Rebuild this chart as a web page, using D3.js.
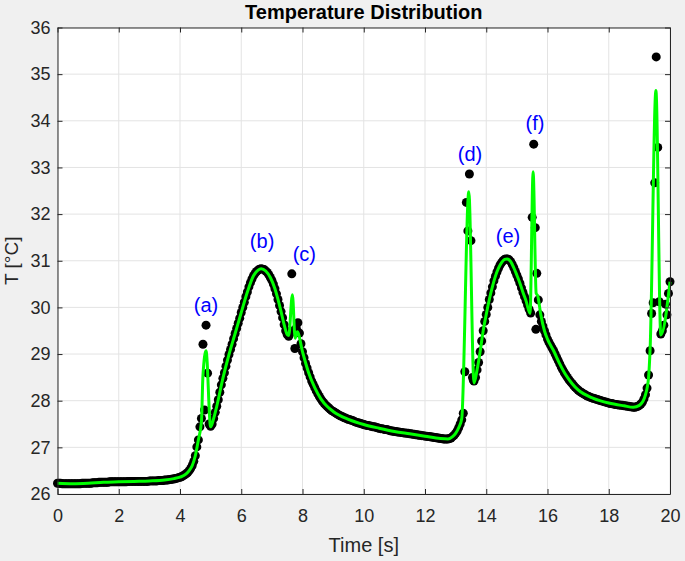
<!DOCTYPE html>
<html>
<head>
<meta charset="utf-8">
<script src="https://cdn.jsdelivr.net/npm/d3@7"></script>
<style>
  body { margin: 0; background: #f0f0f0; }
  text { font-family: "Liberation Sans", Arial, Helvetica, sans-serif; }
</style>
</head>
<body>
<svg id="chart" width="685" height="561"></svg>
<script>
// measured temperature, one sample every 0.05 s from 0 to 20 s
const sampleStep = 0.05;
const measured = [
  26.23,26.23,26.23,26.22,26.22,26.22,26.22,26.22,26.22,26.22,26.22,26.22,26.22,26.22,26.22,26.22,26.23,26.23,26.23,26.23,
  26.23,26.23,26.23,26.24,26.24,26.24,26.24,26.25,26.25,26.25,26.25,26.25,26.25,26.25,26.26,26.26,26.26,26.26,26.26,26.26,
  26.26,26.26,26.26,26.26,26.26,26.26,26.27,26.27,26.27,26.27,26.27,26.27,26.27,26.27,26.27,26.27,26.27,26.27,26.27,26.27,
  26.28,26.28,26.28,26.28,26.28,26.28,26.29,26.29,26.29,26.29,26.30,26.30,26.30,26.31,26.31,26.32,26.32,26.33,26.34,26.35,
  26.36,26.37,26.39,26.41,26.43,26.46,26.50,26.55,26.61,26.70,26.82,27.01,27.16,27.44,27.62,29.21,27.80,29.62,28.59,27.50,
  27.45,27.50,27.62,27.75,27.88,28.02,28.18,28.34,28.48,28.60,28.74,28.87,28.99,29.10,29.21,29.33,29.44,29.55,29.66,29.77,
  29.89,30.00,30.11,30.23,30.33,30.44,30.53,30.61,30.68,30.73,30.77,30.80,30.82,30.83,30.82,30.81,30.78,30.75,30.70,30.64,
  30.58,30.50,30.40,30.29,30.17,30.04,29.91,29.78,29.63,29.50,29.42,29.38,29.45,30.72,29.50,29.12,29.55,29.67,29.45,29.22,
  29.05,28.92,28.80,28.70,28.60,28.51,28.42,28.35,28.28,28.21,28.15,28.09,28.04,27.99,27.95,27.91,27.88,27.85,27.82,27.79,
  27.77,27.75,27.73,27.71,27.69,27.67,27.66,27.64,27.63,27.61,27.60,27.59,27.58,27.57,27.55,27.54,27.53,27.52,27.51,27.50,
  27.49,27.48,27.47,27.47,27.46,27.45,27.44,27.44,27.43,27.42,27.41,27.40,27.40,27.39,27.38,27.38,27.37,27.36,27.35,27.35,
  27.34,27.34,27.33,27.33,27.32,27.32,27.31,27.31,27.30,27.30,27.29,27.29,27.28,27.28,27.27,27.27,27.26,27.26,27.25,27.25,
  27.24,27.24,27.23,27.23,27.22,27.22,27.21,27.21,27.20,27.20,27.19,27.19,27.18,27.18,27.18,27.18,27.19,27.20,27.23,27.26,
  27.30,27.35,27.42,27.50,27.59,27.73,28.62,32.25,31.64,32.86,31.43,28.50,28.42,28.50,28.66,28.82,29.05,29.28,29.50,29.70,
  29.85,30.00,30.17,30.31,30.44,30.57,30.67,30.76,30.84,30.91,30.96,31.00,31.03,31.04,31.04,31.02,30.98,30.92,30.85,30.77,
  30.69,30.61,30.52,30.42,30.32,30.23,30.14,30.05,29.96,29.88,31.93,33.50,31.71,30.73,30.16,29.84,29.70,29.60,29.50,29.41,
  29.32,29.25,29.19,29.13,29.07,29.00,28.93,28.86,28.79,28.72,28.66,28.60,28.55,28.50,28.45,28.41,28.37,28.33,28.29,28.26,
  28.23,28.20,28.18,28.16,28.14,28.12,28.10,28.09,28.07,28.06,28.05,28.04,28.03,28.02,28.01,28.00,27.99,27.98,27.97,27.96,
  27.95,27.94,27.94,27.93,27.92,27.92,27.91,27.91,27.90,27.90,27.89,27.89,27.88,27.88,27.87,27.87,27.86,27.86,27.87,27.88,
  27.90,27.93,27.97,28.04,28.13,28.27,28.55,29.07,29.87,30.10,32.67,35.37,33.43,30.12,29.43,29.50,29.62,30.07,29.84,30.30,
  30.55
];

// a few extra measured points off the regular grid
const extraTime = [13.58, 15.62];
const extraTemp = [28.44, 29.53];

// fitted curve (green)
const fitTime = [
  0, 0.5, 1.0, 1.5, 2.0, 2.5, 3.0, 3.5, 3.8, 4.0, 4.2, 4.3, 4.4, 4.5, 4.6, 4.7, 4.75, 4.85, 5.0,
  5.1, 5.2, 5.4, 5.6, 5.8, 6.0, 6.2, 6.4, 6.55, 6.65, 6.8, 6.95, 7.1, 7.2, 7.3, 7.4, 7.5, 7.55,
  7.67, 7.76, 7.83, 8.0, 8.2, 8.4, 8.6, 8.8, 9.0, 9.5, 10, 10.5, 11, 11.5, 12, 12.5, 12.75, 12.9,
  13.0, 13.1, 13.2, 13.43, 13.6, 13.7, 13.8, 13.9, 14.0, 14.1, 14.2, 14.3, 14.4, 14.5, 14.6, 14.68,
  14.8, 14.9, 15.0, 15.1, 15.2, 15.3, 15.43, 15.53, 15.63, 15.68, 15.78, 15.9, 16.0, 16.2, 16.4,
  16.6, 16.8, 17.0, 17.5, 18.0, 18.5, 18.8, 19.0, 19.1, 19.2, 19.3, 19.35, 19.54, 19.7, 20.0
];
const fitTemp = [
  26.23, 26.22, 26.23, 26.25, 26.26, 26.27, 26.28, 26.30, 26.33, 26.36, 26.43, 26.50, 26.61, 26.82, 27.16, 27.55, 28.55, 29.07, 27.44,
  27.62, 27.88, 28.48, 28.99, 29.44, 29.89, 30.33, 30.68, 30.80, 30.83, 30.78, 30.64, 30.40, 30.17, 29.91, 29.63, 29.42, 29.40,
  30.27, 29.34, 29.48, 29.05, 28.60, 28.28, 28.04, 27.88, 27.77, 27.60, 27.49, 27.41, 27.34, 27.29, 27.24, 27.19, 27.18, 27.23,
  27.30, 27.42, 27.62, 32.48, 28.38, 28.66, 29.05, 29.50, 29.85, 30.17, 30.44, 30.67, 30.84, 30.96, 31.03, 31.04,
  30.98, 30.85, 30.69, 30.52, 30.32, 30.14, 29.87, 32.91, 30.30, 30.25, 29.85, 29.50, 29.32, 29.07, 28.79,
  28.55, 28.37, 28.23, 28.05, 27.95, 27.89, 27.86, 27.90, 27.97, 28.13, 28.50, 29.10, 34.65, 29.41, 30.55
];

const xTickValues = [0, 2, 4, 6, 8, 10, 12, 14, 16, 18, 20];
const yTickValues = [26, 27, 28, 29, 30, 31, 32, 33, 34, 35, 36];

const eventLabels = ["(a)", "(b)", "(c)", "(d)", "(e)", "(f)"];
const eventTime = [4.85, 6.68, 8.06, 13.47, 14.71, 15.59];
const eventTemp = [30.01, 31.38, 31.10, 33.25, 31.49, 33.92];

const width = 685, height = 561;
const margin = { top: 27.5, right: 15, bottom: 67, left: 57.5 };
const svg = d3.select("#chart");

const x = d3.scaleLinear().domain([0, 20]).range([margin.left, width - margin.right]);
const y = d3.scaleLinear().domain([26, 36]).range([height - margin.bottom, margin.top]);

const axisColor = "#262626";

svg.append("rect")
  .attr("x", margin.left).attr("y", margin.top)
  .attr("width", x(20) - x(0)).attr("height", y(26) - y(36))
  .attr("fill", "white");

// grid
const grid = svg.append("g").attr("stroke", "#e3e3e3").attr("stroke-width", 1);
grid.selectAll(".gx").data(xTickValues).join("line")
  .attr("x1", (d) => x(d)).attr("x2", (d) => x(d))
  .attr("y1", y(26)).attr("y2", y(36));
grid.selectAll(".gy").data(yTickValues).join("line")
  .attr("x1", x(0)).attr("x2", x(20))
  .attr("y1", (d) => y(d)).attr("y2", (d) => y(d));

// data: black markers then green fit
const points = measured.map((v, i) => ({ t: i * sampleStep, v }))
  .concat(extraTime.map((t, i) => ({ t, v: extraTemp[i] })));

svg.append("g").attr("fill", "black")
  .selectAll("circle").data(points).join("circle")
  .attr("cx", (d) => x(d.t)).attr("cy", (d) => y(d.v)).attr("r", 4.5);

const line = d3.line()
  .x((d, i) => x(fitTime[i]))
  .y((d) => y(d))
  .curve(d3.curveMonotoneX);

svg.append("path")
  .datum(fitTemp)
  .attr("fill", "none")
  .attr("stroke", "#00ff00")
  .attr("stroke-width", 3)
  .attr("stroke-linejoin", "round")
  .attr("d", line);

// axes (ticks point inward, box on all sides)
const styleAxis = (g) => {
  g.selectAll("path").attr("stroke", axisColor);
  g.selectAll("line").attr("stroke", axisColor);
  g.selectAll("text").attr("fill", axisColor).style("font-size", "18px")
    .style("font-family", '"Liberation Sans", Arial, sans-serif');
};

svg.append("g")
  .attr("transform", `translate(0,${y(26)})`)
  .call(d3.axisBottom(x).tickValues(xTickValues).tickSizeInner(-5).tickSizeOuter(0).tickPadding(15))
  .call(styleAxis);

svg.append("g")
  .attr("transform", `translate(${x(0)},0)`)
  .call(d3.axisLeft(y).tickValues(yTickValues).tickSizeInner(-5).tickSizeOuter(0).tickPadding(7))
  .call(styleAxis);

svg.append("g")
  .attr("transform", `translate(0,${y(36)})`)
  .call(d3.axisTop(x).tickValues(xTickValues).tickSizeInner(-5).tickSizeOuter(0).tickFormat(""))
  .call(styleAxis);

svg.append("g")
  .attr("transform", `translate(${x(20)},0)`)
  .call(d3.axisRight(y).tickValues(yTickValues).tickSizeInner(-5).tickSizeOuter(0).tickFormat(""))
  .call(styleAxis);

// event labels
svg.append("g")
  .selectAll("text").data(eventLabels).join("text")
  .attr("x", (d, i) => x(eventTime[i]))
  .attr("y", (d, i) => y(eventTemp[i]))
  .attr("text-anchor", "middle")
  .attr("dominant-baseline", "middle")
  .attr("fill", "#0000ff")
  .style("font-size", "20px")
  .text((d) => d);

// title and axis labels
svg.append("text")
  .attr("x", (x(0) + x(20)) / 2).attr("y", 19)
  .attr("text-anchor", "middle")
  .style("font-size", "20px").style("font-weight", "bold")
  .attr("fill", "black")
  .text("Temperature Distribution");

svg.append("text")
  .attr("x", (x(0) + x(20)) / 2).attr("y", 552)
  .attr("text-anchor", "middle")
  .style("font-size", "20px")
  .attr("fill", axisColor)
  .text("Time [s]");

svg.append("text")
  .attr("transform", `translate(18,${(y(26) + y(36)) / 2}) rotate(-90)`)
  .attr("text-anchor", "middle")
  .style("font-size", "19px")
  .attr("fill", axisColor)
  .text("T [°C]");
</script>
</body>
</html>
